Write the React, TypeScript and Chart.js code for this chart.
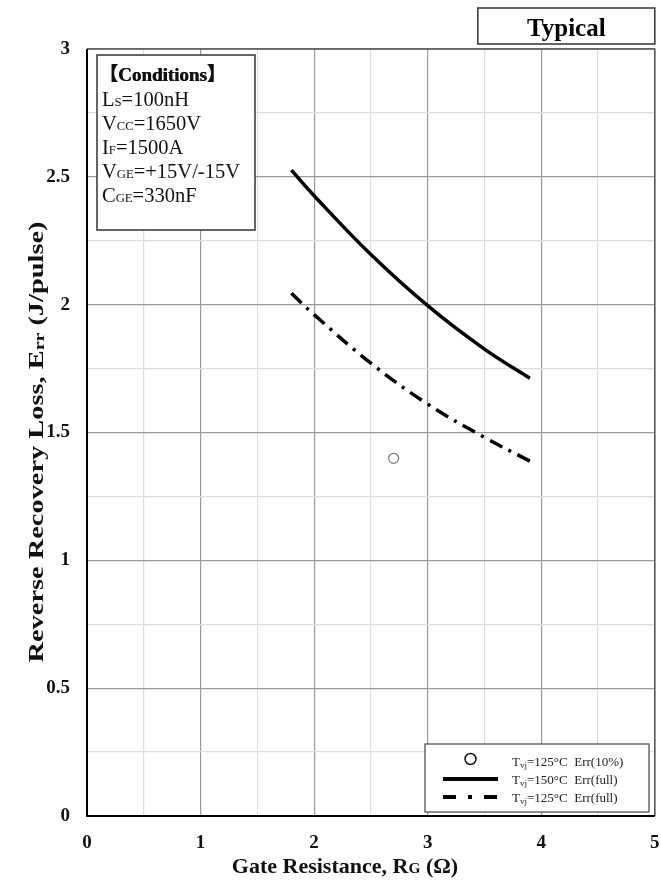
import React, { useEffect, useRef } from "react";
import { Chart, registerables } from "chart.js";

Chart.register(...registerables);

// ---- data ----
const rgTvj150Full = [1.8, 2.0, 2.5, 3.0, 3.5, 3.9];
const errTvj150Full = [2.526, 2.426, 2.196, 1.996, 1.826, 1.712];
const rgTvj125Full = [1.8, 2.0, 2.5, 3.0, 3.5, 3.9];
const errTvj125Full = [2.045, 1.961, 1.771, 1.611, 1.481, 1.388];
const rgTvj125Pct10 = [2.7];
const errTvj125Pct10 = [1.399];

const xMin = 0;
const xMax = 5;
const yMin = 0;
const yMax = 3;

type Seg = { t: string; sub?: boolean };

const legendLabels: Seg[][] = [
  [{ t: "T" }, { t: "vj", sub: true }, { t: "=125°C  Err(10%)" }],
  [{ t: "T" }, { t: "vj", sub: true }, { t: "=150°C  Err(full)" }],
  [{ t: "T" }, { t: "vj", sub: true }, { t: "=125°C  Err(full)" }],
];

const conditionLines: Seg[][] = [
  [{ t: "L" }, { t: "S", sub: true }, { t: "=100nH" }],
  [{ t: "V" }, { t: "CC", sub: true }, { t: "=1650V" }],
  [{ t: "I" }, { t: "F", sub: true }, { t: "=1500A" }],
  [{ t: "V" }, { t: "GE", sub: true }, { t: "=+15V/-15V" }],
  [{ t: "C" }, { t: "GE", sub: true }, { t: "=330nF" }],
];
const conditionsTitle = "【Conditions】";
const typicalText = "Typical";
const xTitle: Seg[] = [{ t: "Gate Resistance, R" }, { t: "G", sub: true }, { t: " (Ω)" }];
const yTitle: Seg[] = [{ t: "Reverse Recovery Loss, E" }, { t: "rr", sub: true }, { t: " (J/pulse)" }];

const SERIF = "'Liberation Serif', 'Times New Roman', 'Noto Sans CJK JP', serif";

function segWidth(ctx: CanvasRenderingContext2D, segs: Seg[], size: number, weight: string, subScale: number) {
  let w = 0;
  for (const s of segs) {
    ctx.font = `${weight} ${s.sub ? size * subScale : size}px ${SERIF}`;
    w += ctx.measureText(s.t).width;
  }
  return w;
}

function drawRich(
  ctx: CanvasRenderingContext2D,
  segs: Seg[],
  x: number,
  y: number,
  size: number,
  weight: string,
  subScale: number,
  subDrop: number,
  align: "left" | "center" = "left"
) {
  const w = segWidth(ctx, segs, size, weight, subScale);
  let cx = align === "center" ? x - w / 2 : x;
  ctx.textAlign = "left";
  ctx.textBaseline = "alphabetic";
  for (const s of segs) {
    ctx.font = `${weight} ${s.sub ? size * subScale : size}px ${SERIF}`;
    ctx.fillText(s.t, cx, y + (s.sub ? subDrop : 0));
    cx += ctx.measureText(s.t).width;
  }
  return w;
}

const decorPlugin = {
  id: "decor",
  beforeDatasetsDraw(chart: any) {
    const ctx: CanvasRenderingContext2D = chart.ctx;
    const { left, right, top, bottom } = chart.chartArea;
    ctx.save();
    // top/right frame
    ctx.strokeStyle = "#555";
    ctx.lineWidth = 1.5;
    ctx.beginPath();
    ctx.moveTo(left, top);
    ctx.lineTo(right, top);
    ctx.lineTo(right, bottom);
    ctx.stroke();
    // left/bottom frame
    ctx.strokeStyle = "#000";
    ctx.lineWidth = 2;
    ctx.beginPath();
    ctx.moveTo(left, top);
    ctx.lineTo(left, bottom);
    ctx.lineTo(right, bottom);
    ctx.stroke();

    // Conditions box
    const bx = left + 10, by = top + 6, bw = 158, bh = 175;
    ctx.fillStyle = "#fff";
    ctx.fillRect(bx, by, bw, bh);
    ctx.strokeStyle = "#333";
    ctx.lineWidth = 1.5;
    ctx.strokeRect(bx, by, bw, bh);
    ctx.fillStyle = "#111";
    ctx.font = `bold 19px ${SERIF}`;
    ctx.textAlign = "left";
    ctx.textBaseline = "alphabetic";
    ctx.fillText(conditionsTitle, bx + 2, by + 26);
    ctx.fillText(conditionsTitle, bx + 2.6, by + 26);
    conditionLines.forEach((segs, i) => {
      drawRich(ctx, segs, bx + 5, by + 51 + i * 24, 20.5, "normal", 0.62, 0, "left");
    });

    // Legend box
    const lx = left + 338, ly = bottom - 72, lw = 224, lh = 68;
    ctx.fillStyle = "#fff";
    ctx.fillRect(lx, ly, lw, lh);
    ctx.strokeStyle = "#444";
    ctx.lineWidth = 1.2;
    ctx.strokeRect(lx, ly, lw, lh);
    const ds = chart.data.datasets;
    const rowY = [ly + 17, ly + 35, ly + 53];
    const x0 = lx + 18, x1 = lx + 73;
    // row 0: marker
    ctx.beginPath();
    ctx.arc((x0 + x1) / 2, rowY[0] - 2, 5.5, 0, Math.PI * 2);
    ctx.strokeStyle = "#111";
    ctx.lineWidth = 1.5;
    ctx.stroke();
    // row 1: solid
    ctx.beginPath();
    ctx.strokeStyle = ds[1].borderColor;
    ctx.lineWidth = 4;
    ctx.setLineDash([]);
    ctx.moveTo(x0, rowY[1]);
    ctx.lineTo(x1, rowY[1]);
    ctx.stroke();
    // row 2: dash-dot
    ctx.beginPath();
    ctx.setLineDash([13, 12, 4, 12]);
    ctx.moveTo(x0, rowY[2]);
    ctx.lineTo(x1 + 1, rowY[2]);
    ctx.stroke();
    ctx.setLineDash([]);
    ctx.fillStyle = "#222";
    legendLabels.forEach((segs, i) => {
      drawRich(ctx, segs, lx + 87, rowY[i] + 5, 13, "normal", 0.7, 1.5, "left");
    });

    // Typical box
    const tx = right - 177, ty = top - 41, tw = 177, th = 36;
    ctx.fillStyle = "#fff";
    ctx.fillRect(tx, ty, tw, th);
    ctx.strokeStyle = "#333";
    ctx.lineWidth = 1.5;
    ctx.strokeRect(tx, ty, tw, th);
    ctx.fillStyle = "#000";
    ctx.font = `bold 25px ${SERIF}`;
    ctx.textAlign = "center";
    ctx.fillText(typicalText, tx + tw / 2, ty + 28);

    // Axis titles
    ctx.fillStyle = "#111";
    drawRich(ctx, xTitle, 345, 873, 22, "bold", 0.7, 0, "center");
    ctx.translate(43, 442);
    ctx.rotate(-Math.PI / 2);
    const w = segWidth(ctx, yTitle, 22, "bold", 0.7);
    ctx.scale(441 / w, 1);
    drawRich(ctx, yTitle, 0, 0, 22, "bold", 0.7, 1, "center");
    ctx.restore();
  },
};

export default function App() {
  const ref = useRef<HTMLCanvasElement | null>(null);
  useEffect(() => {
    if (!ref.current) return;
    const toPts = (xs: number[], ys: number[]) => xs.map((x, i) => ({ x, y: ys[i] }));
    const chart = new Chart(ref.current, {
      type: "scatter",
      data: {
        datasets: [
          {
            label: "Tvj=125°C Err(10%)",
            data: toPts(rgTvj125Pct10, errTvj125Pct10),
            pointRadius: 5,
            pointBorderColor: "#777",
            pointBackgroundColor: "#fff",
            pointBorderWidth: 1.2,
            showLine: false,
          },
          {
            label: "Tvj=150°C Err(full)",
            data: toPts(rgTvj150Full, errTvj150Full),
            showLine: true,
            borderColor: "#000",
            borderWidth: 3.5,
            pointRadius: 0,
            tension: 0.4,
          },
          {
            label: "Tvj=125°C Err(full)",
            data: toPts(rgTvj125Full, errTvj125Full),
            showLine: true,
            borderColor: "#000",
            borderWidth: 3.5,
            borderDash: [14, 7, 3, 7],
            pointRadius: 0,
            tension: 0.4,
          },
        ],
      },
      options: {
        animation: false,
        responsive: false,
        layout: { padding: { top: 49, right: 6, left: 0, bottom: 0 } },
        plugins: { legend: { display: false }, tooltip: { enabled: false } },
        scales: {
          x: {
            type: "linear",
            min: xMin,
            max: xMax,
            afterFit: (s: any) => {
              s.height = 67;
              s.paddingLeft = 0;
              s.paddingRight = 0;
            },
            ticks: {
              stepSize: 0.5,
              padding: 16,
              color: "#111",
              font: { family: SERIF, size: 19, weight: "bold" },
              maxRotation: 0,
              autoSkip: false,
              callback: (v: any) => (Math.abs(v - Math.round(v)) < 1e-6 ? String(Math.round(v)) : ""),
            },
            grid: {
              drawTicks: false,
              color: (c: any) => {
                const v = c.tick?.value ?? 0;
                return Math.abs(v - Math.round(v)) < 1e-6 ? "#999" : "#ddd";
              },
              lineWidth: 1.2,
            },
            border: { display: false },
          },
          y: {
            type: "linear",
            min: yMin,
            max: yMax,
            afterFit: (s: any) => {
              s.width = 87;
              s.paddingTop = 0;
              s.paddingBottom = 0;
            },
            ticks: {
              stepSize: 0.25,
              padding: 17,
              color: "#111",
              font: { family: SERIF, size: 19, weight: "bold" },
              autoSkip: false,
              callback: (v: any) => {
                const m = v * 2;
                return Math.abs(m - Math.round(m)) < 1e-6 ? String(Math.round(m) / 2) : "";
              },
            },
            grid: {
              drawTicks: false,
              color: (c: any) => {
                const v = (c.tick?.value ?? 0) * 2;
                return Math.abs(v - Math.round(v)) < 1e-6 ? "#999" : "#ddd";
              },
              lineWidth: 1.2,
            },
            border: { display: false },
          },
        },
      },
      plugins: [decorPlugin],
    } as any);
    return () => chart.destroy();
  }, []);
  return (
    <div style={{ position: "absolute", left: 0, top: 0, width: 661, height: 883, background: "#fff" }}>
      <canvas ref={ref} width={661} height={883} style={{ display: "block" }} />
    </div>
  );
}
